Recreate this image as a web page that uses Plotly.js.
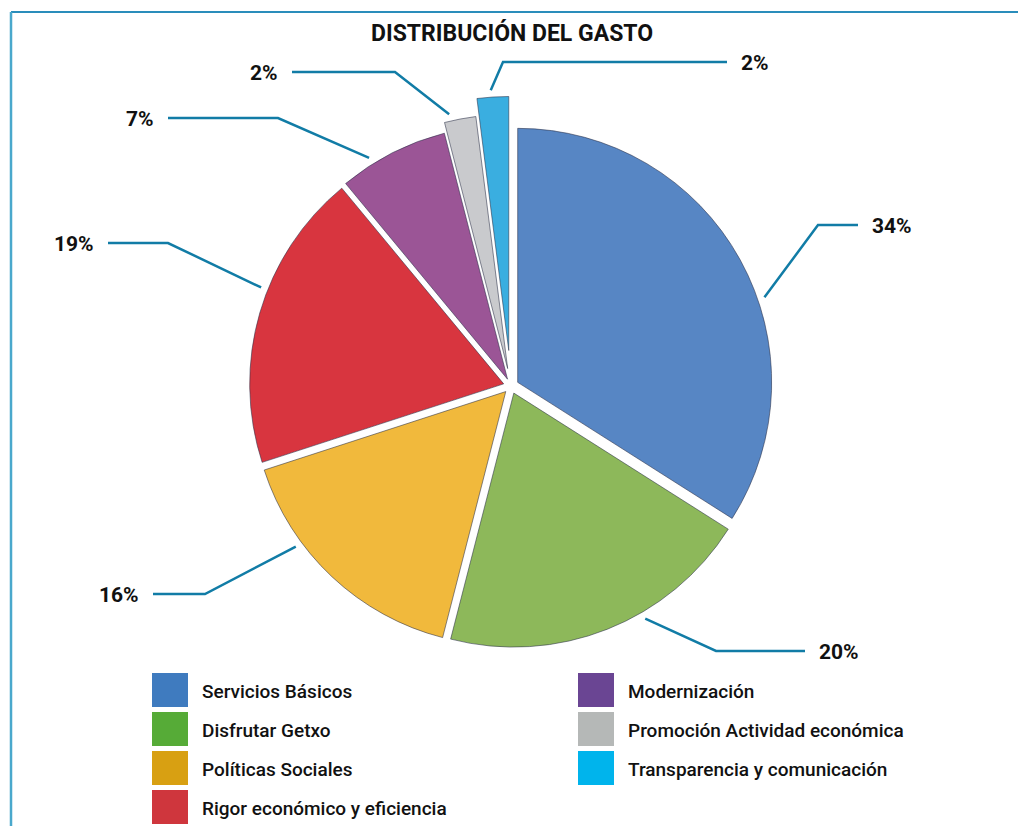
<!DOCTYPE html>
<html>
<head>
<meta charset="utf-8">
<script src="https://cdn.plot.ly/plotly-3.0.1.min.js"></script>
<style>
  html, body { margin: 0; padding: 0; background: #ffffff; }
  #chart { width: 1018px; height: 826px; }
</style>
</head>
<body>
<div id="chart"></div>
<script>
// ---- data ----
const categories = ["Servicios Básicos", "Disfrutar Getxo", "Políticas Sociales",
  "Rigor económico y eficiencia", "Modernización", "Promoción Actividad económica",
  "Transparencia y comunicación"];
const values = [34, 20, 16, 19, 7, 2, 2];
const pctLabels = ["34%", "20%", "16%", "19%", "7%", "2%", "2%"];

// ---- style ----
const sliceColors = ["#5786c4", "#8db85a", "#f1b93c", "#d8353f", "#9b5596", "#c9cacd", "#3aaee0"];
const legendColors = ["#3f7bbf", "#56ab37", "#d8a012", "#cf363d", "#6a4593", "#b5b8b7", "#00b4ec"];
const pulls = [0.03, 0.03, 0.03, 0.03, 0.03, 0.07, 0.14];

const W = 1018, H = 826;
const FONT = "Roboto, 'Liberation Sans', sans-serif";
const LINE_COLOR = "#117ca6";

// pie geometry (pixels)
const CX = 511, CY = 386, R = 254;
const maxPull = Math.max(...pulls);
const half = R * (1 + maxPull);
const domX = [(CX - half) / W, (CX + half) / W];
const domY = [1 - (CY + half) / H, 1 - (CY - half) / H];

// label placement (layout): where along each slice the leader starts,
// the elbow point and horizontal line end (pixels)
const attachFrac = [0.58, 0.38, 0.68, 0.58, 0.3, 0.2, 0.45];
const labelElbow = [[818, 225], [716, 651], [205, 594], [168, 243], [278, 118], [395, 72], [503, 62]];
const labelEndX = [858, 805, 153, 108, 168, 292, 727];

const px = x => x / W;
const py = y => 1 - y / H;

const shapes = [];
const annotations = [];

// leader lines computed from slice angles
const total = values.reduce((a, b) => a + b, 0);
let cum = 0;
values.forEach((v, i) => {
  const midPull = (cum + v / 2) / total * 2 * Math.PI;
  const ang = (cum + v * attachFrac[i]) / total * 2 * Math.PI; // clockwise from top
  cum += v;
  const ox = Math.sin(midPull) * R * pulls[i], oy = -Math.cos(midPull) * R * pulls[i];
  const rr = R + 7;
  const sx = CX + ox + Math.sin(ang) * rr, sy = CY + oy - Math.cos(ang) * rr;
  const [ex, ey] = labelElbow[i];
  const endX = labelEndX[i];
  shapes.push({
    type: "path", xref: "paper", yref: "paper",
    path: `M ${px(sx)},${py(sy)} L ${px(ex)},${py(ey)} L ${px(endX)},${py(ey)}`,
    line: { color: LINE_COLOR, width: 2.5 }
  });
  const right = endX > ex;
  annotations.push({
    xref: "paper", yref: "paper",
    x: px(endX + (right ? 12 : -12)), y: py(ey + 1),
    xanchor: right ? "left" : "right", yanchor: "middle",
    text: pctLabels[i], showarrow: false,
    font: { family: FONT, size: 21, color: "#111111", weight: 700 }
  });
});

// custom legend: two columns
const legColX = [152, 578];
const legRow0 = 690, legStep = 39, swW = 36, swH = 34;
categories.forEach((c, i) => {
  const col = i < 4 ? 0 : 1;
  const row = i < 4 ? i : i - 4;
  const yc = legRow0 + row * legStep;
  const x0 = legColX[col];
  shapes.push({
    type: "rect", xref: "paper", yref: "paper",
    x0: px(x0), x1: px(x0 + swW), y0: py(yc + swH / 2), y1: py(yc - swH / 2),
    fillcolor: legendColors[i], line: { width: 0 }
  });
  annotations.push({
    xref: "paper", yref: "paper",
    x: px(x0 + swW + 12), y: py(yc + 1), xanchor: "left", yanchor: "middle",
    text: c, showarrow: false,
    font: { family: FONT, size: 19, color: "#111111", weight: 500 }
  });
});

// frame lines (top and left)
shapes.push({ type: "line", xref: "paper", yref: "paper", x0: px(11), x1: 1, y0: py(12), y1: py(12),
  line: { color: "#2a8dbb", width: 2 } });
shapes.push({ type: "line", xref: "paper", yref: "paper", x0: px(11), x1: px(11), y0: py(12), y1: 0,
  line: { color: "#4aa8cc", width: 2.5 } });

const trace = {
  type: "pie",
  labels: categories,
  values: values,
  sort: false,
  direction: "clockwise",
  rotation: 0,
  pull: pulls,
  textinfo: "none",
  hoverinfo: "label+percent",
  marker: { colors: sliceColors, line: { color: "rgba(40,45,70,0.55)", width: 1 } },
  domain: { x: domX, y: domY },
  showlegend: false
};

const layout = {
  width: W, height: H,
  margin: { l: 0, r: 0, t: 0, b: 0 },
  paper_bgcolor: "#ffffff",
  showlegend: false,
  title: {
    text: "DISTRIBUCIÓN DEL GASTO",
    x: 0.503, xanchor: "center", y: py(33), yanchor: "middle", yref: "paper",
    font: { family: FONT, size: 23, color: "#111111", weight: 700 }
  },
  shapes: shapes,
  annotations: annotations
};

Plotly.newPlot("chart", [trace], layout, { displayModeBar: false, staticPlot: true });
</script>
</body>
</html>
